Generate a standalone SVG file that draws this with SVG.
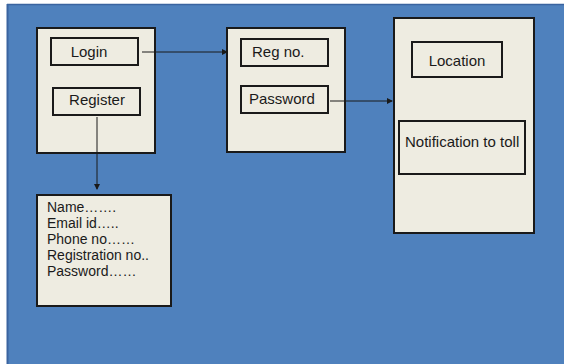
<svg xmlns="http://www.w3.org/2000/svg" width="564" height="364" viewBox="0 0 564 364">
<defs>
<style>
.bg{fill:#4f81bd}
.outer{fill:#eeece1;stroke:#1a1a1a;stroke-width:2}
.inner{fill:#eeece1;stroke:#1a1a1a;stroke-width:2}
text{font-family:"Liberation Sans",Arial,sans-serif;font-size:15px;fill:#1a1a1a}
.list{font-size:14px}
.c{text-anchor:middle}
.conn{stroke:#1a1a1a;stroke-width:1;fill:none}
</style>
<marker id="ah" markerWidth="6" markerHeight="6" refX="5" refY="3" orient="auto" markerUnits="userSpaceOnUse">
<path d="M0,0 L6,3 L0,6 Z" fill="#1a1a1a"/>
</marker>
</defs>
<rect x="0" y="0" width="564" height="364" fill="#ffffff"/>
<rect class="bg" x="7" y="4" width="557" height="360"/>
<line x1="7.5" y1="4" x2="7.5" y2="364" stroke="#3a64a0" stroke-width="2"/>
<line x1="7" y1="4.5" x2="564" y2="4.5" stroke="#3a64a0" stroke-width="1.5"/>
<g id="node-auth">
<rect class="outer" x="37" y="28" width="118" height="125"/>
<g id="node-login"><rect class="inner" x="51" y="38" width="87" height="27"/><text class="c" x="89" y="57">Login</text></g>
<g id="node-register"><rect class="inner" x="53" y="88" width="87" height="27"/><text class="c" x="97" y="105">Register</text></g>
</g>
<g id="node-cred">
<rect class="outer" x="227" y="28" width="118" height="124"/>
<g id="node-regno"><rect class="inner" x="241" y="39" width="87" height="27"/><text x="252" y="57">Reg no.</text></g>
<g id="node-password"><rect class="inner" x="241" y="86" width="87" height="27"/><text x="249" y="104">Password</text></g>
</g>
<g id="node-service">
<rect class="outer" x="394" y="18" width="140" height="215"/>
<g id="node-location"><rect class="inner" x="412" y="42" width="90" height="35"/><text class="c" x="457" y="66">Location</text></g>
<g id="node-notify"><rect class="inner" x="399" y="121" width="126" height="53"/><text x="405" y="147">Notification to toll</text></g>
</g>
<g id="node-form">
<rect class="outer" x="37" y="195" width="134" height="111"/>
<text class="list" x="47" y="212">Name…….</text>
<text class="list" x="47" y="228">Email id…..</text>
<text class="list" x="47" y="244">Phone no……</text>
<text class="list" x="47" y="260">Registration no..</text>
<text class="list" x="47" y="276">Password……</text>
</g>
<g id="connectors">
<line class="conn" x1="142" y1="52" x2="227" y2="52" marker-end="url(#ah)"/>
<line class="conn" x1="330" y1="101" x2="392" y2="101" marker-end="url(#ah)"/>
<line class="conn" x1="97" y1="117" x2="97" y2="189" marker-end="url(#ah)"/>
</g>
</svg>
